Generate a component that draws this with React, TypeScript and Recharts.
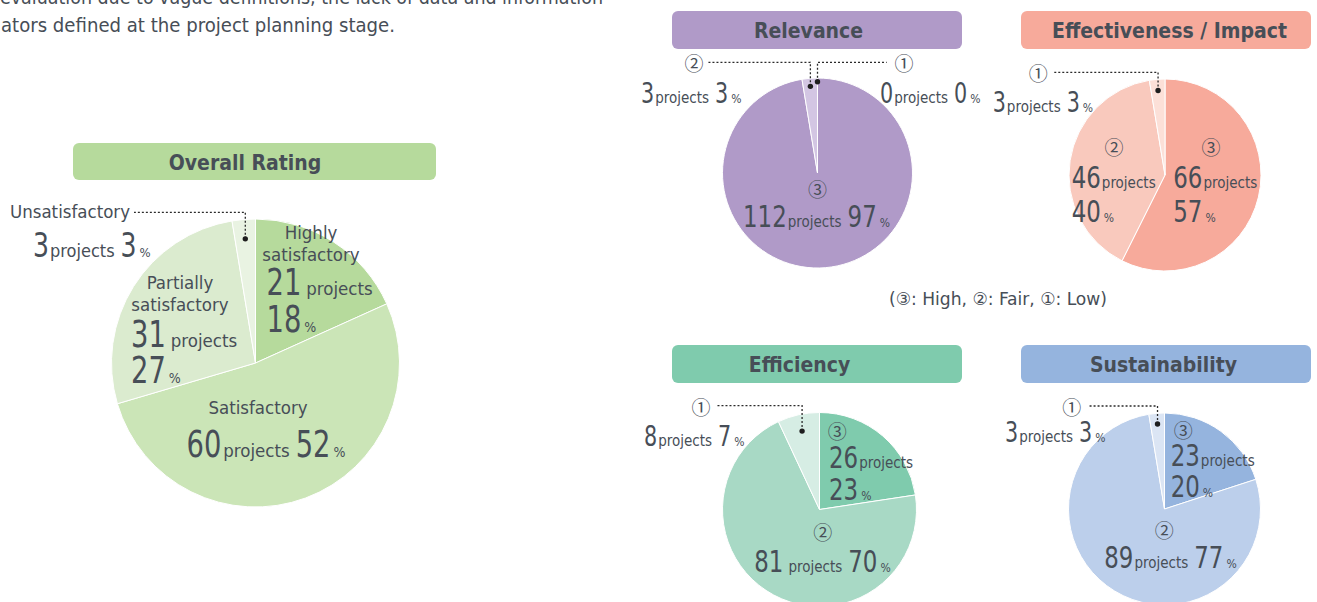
import React from 'react';
import { PieChart, Pie, Cell } from 'recharts';

// ---------------- data ----------------
const introLines = [
  'evaluation due to vague definitions, the lack of data and information',
  'ators defined at the project planning stage.',
];
const chartTitles = ['Overall Rating', 'Relevance', 'Effectiveness / Impact', 'Efficiency', 'Sustainability'];
const legendText = '(③: High, ②: Fair, ①: Low)';
const unitWord = 'projects';

const overallCategories = ['Highly satisfactory', 'Satisfactory', 'Partially satisfactory', 'Unsatisfactory'];
const overallProjects = [21, 60, 31, 3];
const overallPercents = [18, 52, 27, 3];

const gradeMarks = ['③', '②', '①'];
const relevanceProjects = [112, 3, 0];
const relevancePercents = [97, 3, 0];
const effectivenessProjects = [66, 46, 3];
const effectivenessPercents = [57, 40, 3];
const efficiencyProjects = [26, 81, 8];
const efficiencyPercents = [23, 70, 7];
const sustainabilityProjects = [23, 89, 3];
const sustainabilityPercents = [20, 77, 3];

// ---------------- styles ----------------
const W = 1317;
const H = 602;
const INK = '#474e57';
const TXT = "'DejaVu Sans Condensed', 'DejaVu Sans', sans-serif";
const NUM = "'DejaVu Sans Condensed', 'DejaVu Sans', sans-serif";
const MARKF = "'Noto Sans CJK JP', 'DejaVu Sans', sans-serif";
const RAD = Math.PI / 180;
const DIGIT_ADV = 0.47; // narrow digits (em per digit)

type SizeKey = 'L' | 'LC' | 'M' | 'MC';
const SIZES: Record<SizeKey, { num: number; word: number; pct: number }> = {
  L: { num: 37, word: 18.5, pct: 14 },
  LC: { num: 34, word: 18, pct: 13 },
  M: { num: 31, word: 15, pct: 12 },
  MC: { num: 28, word: 15, pct: 12 },
};

type Spec = {
  names?: { dx: number; dys: number[]; anchor: 'start' | 'middle'; wrap?: boolean };
  mark?: [number, number];
  at: [number, number];
  anchor: 'start' | 'middle';
  pctDy?: number;
  gap: number;
  size: SizeKey;
  dot?: { frac: number; lineDy: number; lineDx: number };
};

type Row = { name: string; value: number; pct: number };
const rowsOf = (names: string[], counts: number[], pcts: number[]): Row[] =>
  names.map((name, i) => ({ name, value: counts[i], pct: pcts[i] }));

const polar = (cx: number, cy: number, r: number, angle: number) => ({
  x: cx + r * Math.cos(-angle * RAD),
  y: cy + r * Math.sin(-angle * RAD),
});

const txtStyle = { fontStretch: 'condensed' as const };

function Num({ v, size, dx }: { v: number; size: number; dx?: number }) {
  const s = String(v);
  return (
    <tspan dx={dx} fontFamily={NUM} fontSize={size} textLength={s.length * size * DIGIT_ADV}
      lengthAdjust="spacingAndGlyphs" style={txtStyle}>
      {s}
    </tspan>
  );
}

function ValueText(props: {
  x: number; y: number; anchor: 'start' | 'middle'; count: number; pct: number;
  size: SizeKey; gap: number; pctY?: number;
}) {
  const f = SIZES[props.size];
  if (props.pctY !== undefined) {
    return (
      <g fill={INK}>
        <text x={props.x} y={props.y} textAnchor={props.anchor}>
          <Num v={props.count} size={f.num} />
          <tspan dx={props.gap} fontFamily={TXT} fontSize={f.word} style={txtStyle}>{unitWord}</tspan>
        </text>
        <text x={props.x} y={props.pctY} textAnchor={props.anchor}>
          <Num v={props.pct} size={f.num} />
          <tspan dx={3} fontFamily={TXT} fontSize={f.pct} style={txtStyle}>%</tspan>
        </text>
      </g>
    );
  }
  return (
    <text x={props.x} y={props.y} textAnchor={props.anchor} fill={INK}>
      <Num v={props.count} size={f.num} />
      <tspan dx={props.gap} fontFamily={TXT} fontSize={f.word} style={txtStyle}>{unitWord}</tspan>
      <Num v={props.pct} size={f.num} dx={6} />
      <tspan dx={3} fontFamily={TXT} fontSize={f.pct} style={txtStyle}>%</tspan>
    </text>
  );
}

const makeLabel = (rows: Row[], specs: Spec[], useMarks: boolean) => (p: any) => {
  const { cx, cy, midAngle, outerRadius, index } = p;
  const s = specs[index];
  const row = rows[index];
  if (!s || !row) return <g />;
  const parts: React.ReactNode[] = [];
  if (s.dot) {
    const d = polar(cx, cy, outerRadius * s.dot.frac, midAngle);
    const ly = cy + s.dot.lineDy;
    const lx = cx + s.dot.lineDx;
    parts.push(
      <polyline key="l" points={`${d.x},${d.y} ${d.x},${ly} ${lx},${ly}`} fill="none"
        stroke="#2b2b2b" strokeWidth={1.3} strokeDasharray="2 2" />,
      <circle key="d" cx={d.x} cy={d.y} r={2.7} fill="#1e1e1e" />,
    );
  }
  if (s.names) {
    const sp = row.name.indexOf(' ');
    const lines = s.names.wrap ? [row.name.slice(0, sp), row.name.slice(sp + 1)] : [row.name];
    lines.forEach((ln, i) =>
      parts.push(
        <text key={`n${i}`} x={cx + s.names!.dx} y={cy + s.names!.dys[i]} textAnchor={s.names!.anchor}
          fontFamily={TXT} fontSize={18.5} fill={INK} style={txtStyle}>
          {ln}
        </text>,
      ),
    );
  }
  if (s.mark && useMarks) {
    parts.push(
      <text key="m" x={cx + s.mark[0]} y={cy + s.mark[1]} textAnchor="middle" dominantBaseline="central"
        fontFamily={MARKF} fontSize={19} fill={INK}>
        {row.name}
      </text>,
    );
  }
  parts.push(
    <ValueText key="v" x={cx + s.at[0]} y={cy + s.at[1]} anchor={s.anchor} count={row.value} pct={row.pct}
      size={s.size} gap={s.gap} pctY={s.pctDy !== undefined ? cy + s.pctDy : undefined} />,
  );
  return <g>{parts}</g>;
};

// ---------------- chart configs ----------------
type ChartCfg = {
  key: string; rows: Row[]; colors: string[]; cx: number; cy: number; r: number; specs: Spec[]; marks: boolean;
};

const charts: ChartCfg[] = [
  {
    key: 'overall', rows: rowsOf(overallCategories, overallProjects, overallPercents),
    colors: ['#b6da9c', '#cbe5b7', '#dbebcf', '#e9f3e2'], cx: 255.5, cy: 363, r: 144, marks: false,
    specs: [
      { names: { dx: 55.5, dys: [-124.5, -102.5], anchor: 'middle', wrap: true }, at: [11, -68], anchor: 'start', pctDy: -31, gap: 5, size: 'L' },
      { names: { dx: 2.5, dys: [51], anchor: 'middle' }, at: [10.5, 94], anchor: 'middle', gap: 2, size: 'L' },
      { names: { dx: -75.5, dys: [-74.5, -52.5], anchor: 'middle', wrap: true }, at: [-124.5, -16], anchor: 'start', pctDy: 20, gap: 5, size: 'L' },
      { names: { dx: -245.5, dys: [-145], anchor: 'start' }, at: [-222.5, -106], anchor: 'start', gap: 1, size: 'LC',
        dot: { frac: 0.865, lineDy: -150.7, lineDx: -121.5 } },
    ],
  },
  {
    key: 'relevance', rows: rowsOf(gradeMarks, relevanceProjects, relevancePercents),
    colors: ['#b09ac8', '#d3c6e3', '#e6ddf0'], cx: 817.5, cy: 173, r: 95, marks: true,
    specs: [
      { mark: [0, 15], at: [-1, 53.7], anchor: 'middle', gap: 1, size: 'M' },
      { mark: [-123.5, -110.7], at: [-176.5, -69.7], anchor: 'start', gap: 1, size: 'MC',
        dot: { frac: 0.915, lineDy: -110.7, lineDx: -110.5 } },
      { mark: [86.5, -110.7], at: [62.5, -69.7], anchor: 'start', gap: 1, size: 'MC',
        dot: { frac: 0.96, lineDy: -110.7, lineDx: 69.2 } },
    ],
  },
  {
    key: 'effectiveness', rows: rowsOf(gradeMarks, effectivenessProjects, effectivenessPercents),
    colors: ['#f7aa9b', '#f9c9bd', '#fce0d8'], cx: 1165, cy: 175, r: 96, marks: true,
    specs: [
      { mark: [46, -28.3], at: [8.3, 13.3], anchor: 'start', pctDy: 46.7, gap: 1, size: 'M' },
      { mark: [-51, -28.3], at: [-93.3, 13.3], anchor: 'start', pctDy: 46.7, gap: 1, size: 'M' },
      { mark: [-126.7, -102.7], at: [-172.3, -63.3], anchor: 'start', gap: 1, size: 'MC',
        dot: { frac: 0.883, lineDy: -102.7, lineDx: -111 } },
    ],
  },
  {
    key: 'efficiency', rows: rowsOf(gradeMarks, efficiencyProjects, efficiencyPercents),
    colors: ['#7fcbad', '#a8d9c5', '#d6ede4'], cx: 819.5, cy: 509.5, r: 97, marks: true,
    specs: [
      { mark: [17.8, -79.5], at: [9.5, -41.2], anchor: 'start', pctDy: -9.5, gap: 1, size: 'M' },
      { mark: [3.2, 21.5], at: [3, 62.2], anchor: 'middle', gap: 5, size: 'M' },
      { mark: [-118.5, -103], at: [-175.5, -63.5], anchor: 'start', gap: 1, size: 'MC',
        dot: { frac: 0.828, lineDy: -103.8, lineDx: -102.2 } },
    ],
  },
  {
    key: 'sustainability', rows: rowsOf(gradeMarks, sustainabilityProjects, sustainabilityPercents),
    colors: ['#95b4de', '#bccfeb', '#dbe5f4'], cx: 1164.5, cy: 509, r: 96, marks: true,
    specs: [
      { mark: [18.8, -79.7], at: [6.2, -43], anchor: 'start', pctDy: -12.3, gap: 1, size: 'M' },
      { mark: [-0.2, 20.3], at: [6, 59.3], anchor: 'middle', gap: 1, size: 'M' },
      { mark: [-92.8, -103], at: [-159.5, -67.3], anchor: 'start', gap: 1, size: 'MC',
        dot: { frac: 0.888, lineDy: -103, lineDx: -76.2 } },
    ],
  },
];

const titleBoxes = [
  { x: 73, y: 143, w: 363, h: 37, fill: '#b6da9c', tx: 245 },
  { x: 672, y: 11, w: 290, h: 38, fill: '#b09ac8', tx: 808.5 },
  { x: 1021, y: 11, w: 290, h: 38, fill: '#f7aa9b', tx: 1169.5 },
  { x: 672, y: 345, w: 290, h: 38, fill: '#7fcbad', tx: 799.5 },
  { x: 1021, y: 345, w: 290, h: 38, fill: '#95b4de', tx: 1163.5 },
];

export default function App() {
  return (
    <div style={{ position: 'absolute', left: 0, top: 0, width: W, height: H, background: '#fff', overflow: 'hidden' }}>
      <div style={{ position: 'absolute', left: 0, top: 0 }}>
        <PieChart width={W} height={H} margin={{ top: 0, right: 0, bottom: 0, left: 0 }}>
          {charts.map((c) => (
            <Pie
              key={c.key}
              data={c.rows}
              dataKey="value"
              nameKey="name"
              cx={c.cx}
              cy={c.cy}
              outerRadius={c.r}
              innerRadius={0}
              startAngle={90}
              endAngle={-270}
              stroke="#ffffff"
              strokeWidth={1}
              isAnimationActive={false}
              labelLine={false}
              label={makeLabel(c.rows, c.specs, c.marks)}
            >
              {c.rows.map((r, i) => (
                <Cell key={r.name} fill={c.colors[i]} />
              ))}
            </Pie>
          ))}
        </PieChart>
      </div>
      <svg width={W} height={H} style={{ position: 'absolute', left: 0, top: 0, pointerEvents: 'none' }}>
        <text x={0} y={4} fontFamily={TXT} fontSize={20} fill={INK} textLength={603} lengthAdjust="spacingAndGlyphs"
          style={txtStyle}>{introLines[0]}</text>
        <text x={1} y={32} fontFamily={TXT} fontSize={20} fill={INK} textLength={394} lengthAdjust="spacingAndGlyphs"
          style={txtStyle}>{introLines[1]}</text>
        {titleBoxes.map((b, i) => (
          <g key={chartTitles[i]}>
            <rect x={b.x} y={b.y} width={b.w} height={b.h} rx={6} fill={b.fill} />
            <text x={b.tx} y={b.y + b.h / 2 + 1} textAnchor="middle" dominantBaseline="central"
              fontFamily={TXT} fontWeight="bold" fontSize={21} fill={INK} style={txtStyle}>
              {chartTitles[i]}
            </text>
          </g>
        ))}
        <text x={998} y={305} textAnchor="middle" fontFamily={TXT} fontSize={17.5} fill={INK}
          textLength={218} lengthAdjust="spacingAndGlyphs" style={txtStyle}>{legendText}</text>
      </svg>
    </div>
  );
}
